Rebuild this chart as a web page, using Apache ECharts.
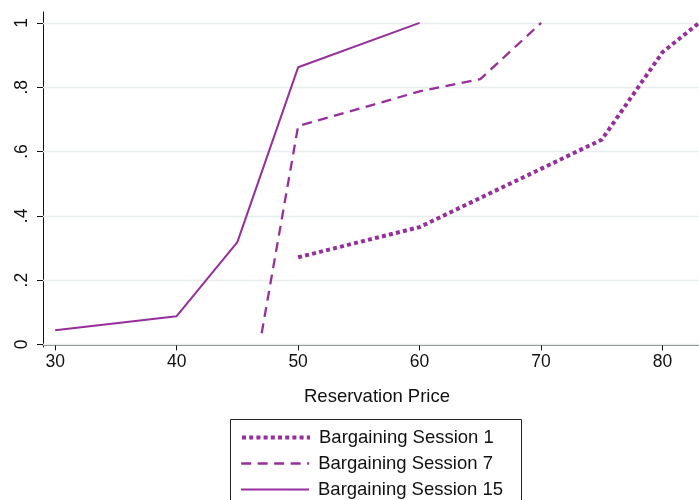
<!DOCTYPE html>
<html>
<head>
<meta charset="utf-8">
<script src="https://cdn.jsdelivr.net/npm/echarts@6/dist/echarts.min.js"></script>
<style>html,body{margin:0;padding:0;background:#fff}#c{width:699px;height:500px}</style>
</head>
<body>
<div id="c"></div>
<script>
const seriesNames = ['Bargaining Session 1', 'Bargaining Session 7', 'Bargaining Session 15'];
const session1 = [[50, 0.271], [60, 0.365], [75, 0.637], [80, 0.909], [83, 1.0]];
const session7 = [[47, 0.035], [50, 0.679], [60, 0.787], [65, 0.825], [70, 1.0]];
const session15 = [[30, 0.044], [40, 0.088], [45, 0.318], [50, 0.862], [60, 1.0]];
const xTicks = [30, 40, 50, 60, 70, 80];
const yTicks = [0, 0.2, 0.4, 0.6, 0.8, 1];
const yTickLabels = ['0', '.2', '.4', '.6', '.8', '1'];

const purple = '#962f9b';
const font = 'Liberation Sans, Arial, sans-serif';

const styles = [
  {color: purple, width: 4, type: [4, 3.2], cap: 'butt'},
  {color: purple, width: 2.3, type: [10, 6.5], cap: 'butt'},
  {color: purple, width: 2, type: 'solid'}
];

const legendRowTops = [428, 454, 480];
const legends = seriesNames.map((n, i) => ({
  orient: 'horizontal', left: 240, top: legendRowTops[i],
  data: [n], padding: 0,
  itemWidth: 68, itemHeight: 14,
  itemStyle: {opacity: 0},
  lineStyle: Object.assign({}, styles[i]),
  textStyle: {color: '#111', fontSize: 18.5, fontFamily: font, padding: [0, 0, 0, 4]}
}));

const chart = echarts.init(document.getElementById('c'), null, {renderer: 'canvas'});
chart.setOption({
  animation: false,
  backgroundColor: '#fff',
  grid: {left: 43, right: 0, top: 12, bottom: 153, containLabel: false},
  graphic: [{
    type: 'rect', left: 228, top: 417, silent: true,
    shape: {width: 291, height: 100},
    style: {fill: 'none', stroke: '#222', lineWidth: 1}
  }],
  xAxis: {
    type: 'value', min: 29, max: 83,
    name: 'Reservation Price', nameLocation: 'middle', nameGap: 40,
    nameTextStyle: {color: '#111', fontSize: 18.5, fontFamily: font, padding: [0, 0, 0, 12]},
    axisLine: {show: true, lineStyle: {color: '#555', width: 1.5}},
    axisTick: {show: true, length: 6, customValues: xTicks, lineStyle: {color: '#111'}},
    axisLabel: {customValues: xTicks, color: '#111', fontSize: 17.5, fontFamily: font, margin: 6},
    splitLine: {show: false}
  },
  yAxis: {
    type: 'value', min: -0.008, max: 1.034,
    axisLine: {show: true, lineStyle: {color: '#111', width: 1}},
    axisTick: {show: true, length: 6, customValues: yTicks, lineStyle: {color: '#111'}},
    axisLabel: {
      customValues: yTicks, rotate: 90, color: '#111', fontSize: 17.5, fontFamily: font, margin: 12,
      formatter: function (v) { const i = yTicks.findIndex(t => Math.abs(t - v) < 1e-6); return i >= 0 ? yTickLabels[i] : ''; }
    },
    splitLine: {show: false}
  },
  legend: legends,
  series: [
    {
      name: seriesNames[0], type: 'line', data: session1, symbol: 'none', z: 3,
      lineStyle: styles[0], itemStyle: {color: purple},
      markLine: {
        silent: true, symbol: 'none', label: {show: false}, z: 1,
        lineStyle: {color: '#e8eef0', width: 1.3, type: 'solid'},
        data: yTicks.map(v => ({yAxis: v}))
      }
    },
    {
      name: seriesNames[1], type: 'line', data: session7, symbol: 'none', z: 3,
      lineStyle: styles[1], itemStyle: {color: purple}
    },
    {
      name: seriesNames[2], type: 'line', data: session15, symbol: 'none', z: 3,
      lineStyle: styles[2], itemStyle: {color: purple}
    }
  ]
});
</script>
</body>
</html>
